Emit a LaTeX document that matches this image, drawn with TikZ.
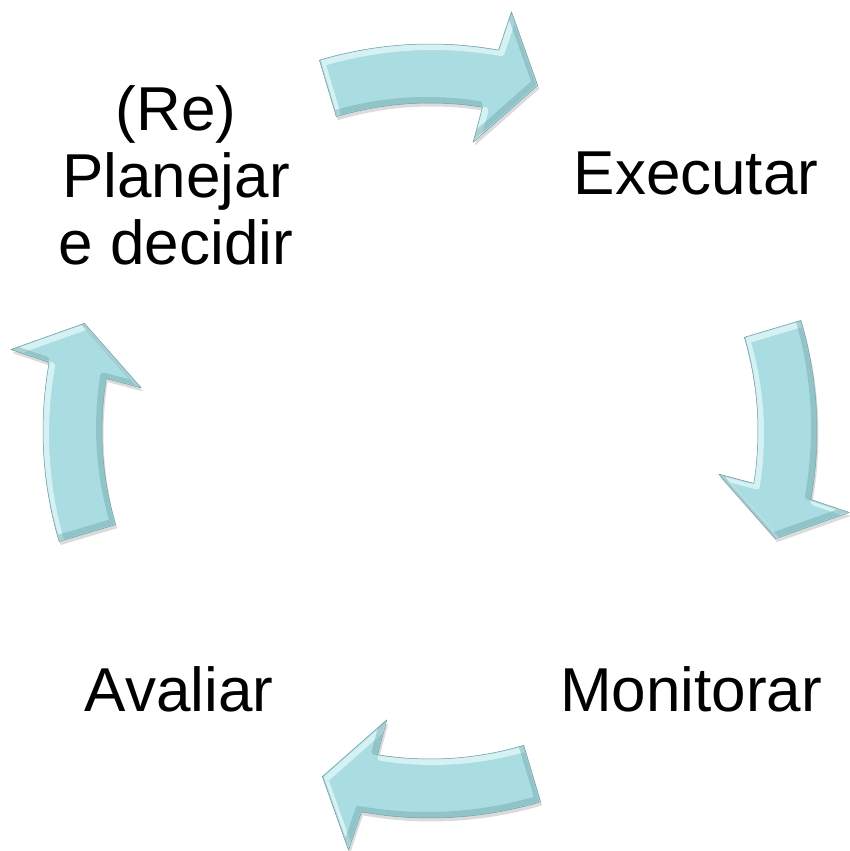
\documentclass[tikz,border=0pt]{standalone}
\usepackage{fontspec}
\setmainfont{Liberation Sans}
\definecolor{arrowfill}{RGB}{170,221,225}
\definecolor{bevellight}{RGB}{218,244,245}
\definecolor{beveldark}{RGB}{108,160,166}
\newcommand\cyclearrowshape[1]{({106.6+#1}:387) arc[start angle={106.6+#1}, delta angle=-26.8, radius=387] -- ({79+#1}:427) -- ({72.7+#1}:362) -- ({81.5+#1}:292) -- ({80.8+#1}:328) arc[start angle={80.8+#1}, delta angle=25.8, radius=328] -- cycle}
\newcommand\cyclearrow[1]{%
  \fill[black,opacity=.14,shift={(1.5,-3.5)}] \cyclearrowshape{#1};
  \begin{scope}
    \clip \cyclearrowshape{#1};
    \fill[arrowfill] \cyclearrowshape{#1};
    \draw[line width=6pt,bevellight,opacity=.9,shift={(3,-3)},line join=round] \cyclearrowshape{#1};
    \draw[line width=6pt,beveldark,opacity=.4,shift={(-3,3)},line join=round] \cyclearrowshape{#1};
  \end{scope}
  \draw[beveldark,line width=.5pt,line join=round] \cyclearrowshape{#1};
}
\tikzset{
  label text/.style={font=\fontsize{62}{67}\selectfont, text=black, inner sep=0pt, anchor=base}
}
\begin{document}
\begin{tikzpicture}[x=1pt,y=1pt]
  \useasboundingbox[fill=white] (0,0) rectangle (850,851);
  \begin{scope}[shift={(430,420)}]
    \cyclearrow{0}
    \cyclearrow{-90}
    \cyclearrow{-180}
    \cyclearrow{-270}
  \end{scope}
  \node[label text, align=center] (plan) at (176,586) {(Re)\\Planejar\\e decidir};
  \node[label text] (exec) at (696,656) {Executar};
  \node[label text] (mon) at (691,139) {Monitorar};
  \node[label text] (aval) at (179,139) {Avaliar};
\end{tikzpicture}
\end{document}
